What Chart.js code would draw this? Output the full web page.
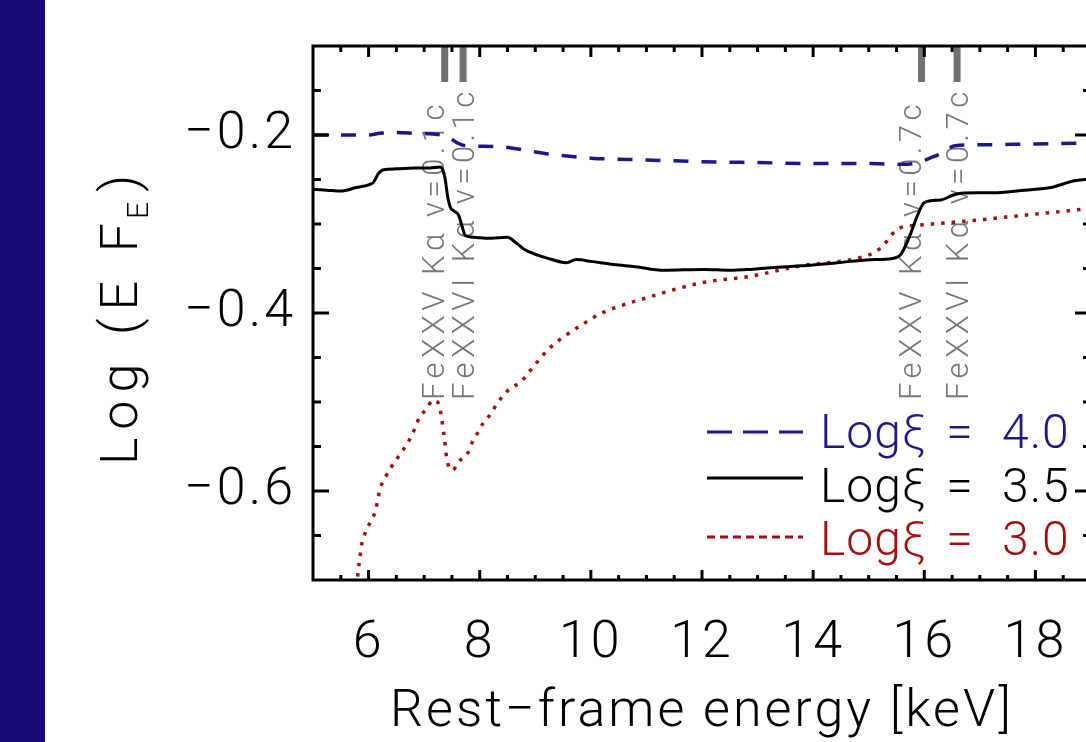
<!DOCTYPE html>
<html>
<head>
<meta charset="utf-8">
<script src="https://cdn.jsdelivr.net/npm/chart.js@4/dist/chart.umd.min.js"></script>
<style>
  html, body { margin: 0; padding: 0; background: #fff; overflow: hidden; }
  #wrap { position: relative; width: 1100px; height: 742px; }
  #band { position: absolute; left: 0; top: 0; width: 45px; height: 742px; background: #1a0b7b; z-index: 2; }
</style>
</head>
<body>
<div id="wrap"><div id="band"></div><canvas id="chart"></canvas></div>
<script>
const FONT = 'Roboto, "Liberation Sans", sans-serif';

// tick labels
const xMajorTicks = [6, 8, 10, 12, 14, 16, 18];
const yMajorTicks = [-0.6, -0.4, -0.2];

// Log xi = 4.0 (dashed)
const energy40 = [5.0, 5.5, 6.0, 6.2, 6.35, 6.8, 7.3, 7.45, 7.6, 7.75, 8.3, 9.2, 10.0, 11.0, 12.0, 13.0, 14.0, 15.0, 15.6, 15.9, 16.1, 16.3, 16.55, 17.0, 18.0, 19.0];
const logEF40  = [-0.2, -0.2, -0.2, -0.198, -0.197, -0.198, -0.2, -0.203, -0.209, -0.212, -0.213, -0.221, -0.226, -0.228, -0.230, -0.231, -0.232, -0.232, -0.233, -0.231, -0.226, -0.221, -0.212, -0.211, -0.210, -0.209];

// Log xi = 3.5 (solid)
const energy35 = [5.0, 5.25, 5.5, 5.78, 6.0, 6.09, 6.18, 6.27, 6.5, 6.82, 7.1, 7.29, 7.34, 7.38, 7.42, 7.47, 7.55, 7.62, 7.68, 7.74, 7.89, 8.2, 8.5, 8.65, 8.79, 9.0, 9.2, 9.56, 9.74, 10.0, 10.41, 10.8, 11.31, 12.03, 12.5, 12.87, 13.3, 13.78, 14.2, 14.68, 15.1, 15.4, 15.58, 15.68, 15.76, 15.88, 16.0, 16.3, 16.5, 16.66, 17.0, 17.38, 17.8, 18.28, 18.5, 18.7, 18.93, 19.0];
const logEF35  = [-0.261, -0.262, -0.263, -0.259, -0.256, -0.253, -0.243, -0.239, -0.238, -0.237, -0.237, -0.236, -0.240, -0.250, -0.268, -0.281, -0.286, -0.290, -0.302, -0.313, -0.315, -0.316, -0.315, -0.321, -0.328, -0.334, -0.338, -0.3435, -0.340, -0.342, -0.3455, -0.348, -0.352, -0.351, -0.352, -0.351, -0.349, -0.347, -0.345, -0.342, -0.340, -0.339, -0.334, -0.322, -0.310, -0.290, -0.276, -0.273, -0.268, -0.2654, -0.265, -0.2646, -0.262, -0.259, -0.255, -0.2515, -0.2496, -0.249];

// Log xi = 3.0 (dotted)
const energy30 = [5.78, 5.80, 5.85, 5.88, 5.94, 6.03, 6.12, 6.21, 6.30, 6.40, 6.52, 6.63, 6.74, 6.83, 6.91, 7.04, 7.16, 7.27, 7.31, 7.34, 7.37, 7.39, 7.43, 7.51, 7.63, 7.78, 7.86, 7.96, 8.06, 8.19, 8.30, 8.42, 8.56, 8.73, 8.97, 9.24, 9.54, 9.87, 10.2, 11.0, 12.0, 12.88, 13.78, 14.68, 15.1, 15.28, 15.41, 15.58, 15.88, 16.78, 17.98, 19.0];
const logEF30  = [-0.72, -0.699, -0.672, -0.659, -0.647, -0.635, -0.623, -0.597, -0.585, -0.574, -0.563, -0.553, -0.542, -0.530, -0.518, -0.508, -0.498, -0.503, -0.5165, -0.5295, -0.543, -0.556, -0.570, -0.5766, -0.5664, -0.558, -0.546, -0.535, -0.524, -0.514, -0.503, -0.493, -0.484, -0.478, -0.460, -0.4405, -0.4255, -0.412, -0.400, -0.383, -0.366, -0.3586, -0.347, -0.340, -0.332, -0.323, -0.312, -0.304, -0.3015, -0.2966, -0.289, -0.2825];

// line markers
const lineEnergies = [7.37, 7.70, 15.95, 16.59];
const lineLabels = ['FeXXV Kα v=0.1c', 'FeXXVI Kα v=0.1c', 'FeXXV Kα v=0.7c', 'FeXXVI Kα v=0.7c'];

const xiLabels = ['4.0', '3.5', '3.0'];
const BLUE = '#20168c', RED = '#a01010';

const pts = (xs, ys) => xs.map((x, i) => ({ x: x, y: ys[i] }));

const spacingPlugin = {
  id: 'spacing',
  beforeLayout(chart) { chart.ctx.letterSpacing = '3px'; },
  beforeDraw(chart) { chart.ctx.letterSpacing = '3px'; }
};

const framePlugin = {
  id: 'frame',
  beforeDatasetsDraw(chart) {
    const { ctx, chartArea: ca, scales: { x } } = chart;
    ctx.save();
    lineEnergies.forEach((e, i) => {
      const px = x.getPixelForValue(e);
      ctx.fillStyle = '#707070';
      ctx.fillRect(px - 3.5, ca.top, 7, 36);
      ctx.save();
      ctx.translate(px + (i % 2 ? 11 : -1), ca.top + 354);
      ctx.rotate(-Math.PI / 2);
      ctx.font = '300 31px ' + FONT;
      ctx.letterSpacing = '4.5px';
      ctx.textAlign = 'left';
      ctx.textBaseline = 'alphabetic';
      ctx.fillStyle = '#767676';
      ctx.fillText(lineLabels[i], 0, 0);
      ctx.restore();
    });
    ctx.restore();
  },
  afterDraw(chart) {
    const { ctx, chartArea: ca, scales: { x, y } } = chart;
    const seg = (x1, y1, x2, y2) => { ctx.beginPath(); ctx.moveTo(x1, y1); ctx.lineTo(x2, y2); ctx.stroke(); };
    ctx.save();
    ctx.strokeStyle = '#000';
    ctx.lineWidth = 3;
    for (let v = 5.5; v < 19; v += 0.5) {
      const px = x.getPixelForValue(v);
      const major = xMajorTicks.includes(v);
      seg(px, ca.bottom, px, ca.bottom - (major ? 10 : 5));
      seg(px, ca.top, px, ca.top + (major ? 11 : 6));
    }
    for (let k = 1; k < 12; k++) {
      const v = -0.7 + k * 0.05;
      const py = y.getPixelForValue(v);
      const major = yMajorTicks.some(t => Math.abs(t - v) < 1e-6);
      seg(ca.left, py, ca.left + (major ? 16 : 8), py);
      seg(ca.right, py, ca.right - (major ? 16 : 8), py);
    }
    ctx.strokeRect(ca.left, ca.top, ca.right - ca.left, ca.bottom - ca.top);

    // legend
    const rows = [
      { color: BLUE, dash: [25, 11], ly: -148, ty: -132 },
      { color: '#000', dash: [], ly: -102, ty: -78 },
      { color: RED, dash: [8, 5], ly: -43, ty: -25 }
    ];
    ctx.letterSpacing = '1px';
    rows.forEach((r, i) => {
      ctx.strokeStyle = r.color;
      ctx.lineWidth = 3;
      ctx.setLineDash(r.dash);
      seg(ca.left + 394, ca.bottom + r.ly, ca.left + 490, ca.bottom + r.ly);
      ctx.setLineDash([]);
      ctx.fillStyle = r.color;
      ctx.font = '300 48px ' + FONT;
      ctx.textBaseline = 'alphabetic';
      ctx.textAlign = 'left';
      ctx.fillText('Logξ', ca.left + 507, ca.bottom + r.ty);
      ctx.textAlign = 'center';
      ctx.fillText('=', ca.left + 647, ca.bottom + r.ty);
      ctx.textAlign = 'left';
      ctx.fillText(xiLabels[i], ca.left + 689, ca.bottom + r.ty);
    });

    // y title
    ctx.save();
    ctx.translate(137, (ca.top + ca.bottom) / 2 + 2);
    ctx.rotate(-Math.PI / 2);
    ctx.fillStyle = '#000';
    ctx.textAlign = 'left';
    ctx.textBaseline = 'alphabetic';
    ctx.letterSpacing = '8px';
    const big = '300 52px ' + FONT, small = '300 30px ' + FONT;
    ctx.font = big;
    const w1 = ctx.measureText('Log (E F').width, w3 = ctx.measureText(')').width;
    ctx.font = small;
    const w2 = ctx.measureText('E').width;
    const s = -(w1 + w2 + w3) / 2;
    ctx.font = big;
    ctx.fillText('Log (E F', s, 0);
    ctx.font = small;
    ctx.fillText('E', s + w1 - 4, 11);
    ctx.font = big;
    ctx.fillText(')', s + w1 + w2 - 2, 0);
    ctx.restore();
    ctx.restore();
  }
};

new Chart(document.getElementById('chart'), {
  type: 'line',
  data: {
    datasets: [
      { label: 'Log xi = 4.0', data: pts(energy40, logEF40), borderColor: BLUE, borderWidth: 3.5, borderDash: [15, 13] },
      { label: 'Log xi = 3.5', data: pts(energy35, logEF35), borderColor: '#000', borderWidth: 3 },
      { label: 'Log xi = 3.0', data: pts(energy30, logEF30), borderColor: RED, borderWidth: 3.5, borderDash: [3.5, 7] }
    ]
  },
  options: {
    responsive: true,
    maintainAspectRatio: false,
    animation: false,
    layout: { padding: { left: 0, top: 46, right: 9, bottom: 0 } },
    elements: { point: { radius: 0 }, line: { tension: 0, cubicInterpolationMode: 'monotone' } },
    plugins: { legend: { display: false }, tooltip: { enabled: false } },
    scales: {
      x: {
        type: 'linear', min: 5, max: 19,
        grid: { display: false, drawTicks: false },
        border: { display: false },
        afterBuildTicks: a => { a.ticks = xMajorTicks.map(v => ({ value: v })); },
        afterFit: a => { a.height = 162; a.paddingLeft = 0; a.paddingRight = 0; },
        ticks: { padding: 33, color: '#000', maxRotation: 0, autoSkip: false, font: { family: FONT, size: 52, weight: 300 } },
        title: { display: true, text: 'Rest−frame energy [keV]', color: '#000', font: { family: FONT, size: 52, weight: 300, lineHeight: 1.1 }, padding: { top: 0, bottom: 0 } }
      },
      y: {
        type: 'linear', min: -0.7, max: -0.1,
        grid: { display: false, drawTicks: false },
        border: { display: false },
        afterBuildTicks: a => { a.ticks = yMajorTicks.map(v => ({ value: v })); },
        afterFit: a => { a.width = 313; a.paddingTop = 0; a.paddingBottom = 0; },
        ticks: { padding: 17, color: '#000', font: { family: FONT, size: 52, weight: 300 }, callback: v => '−' + Math.abs(v).toFixed(1) }
      }
    }
  },
  plugins: [spacingPlugin, framePlugin]
});
</script>
</body>
</html>
